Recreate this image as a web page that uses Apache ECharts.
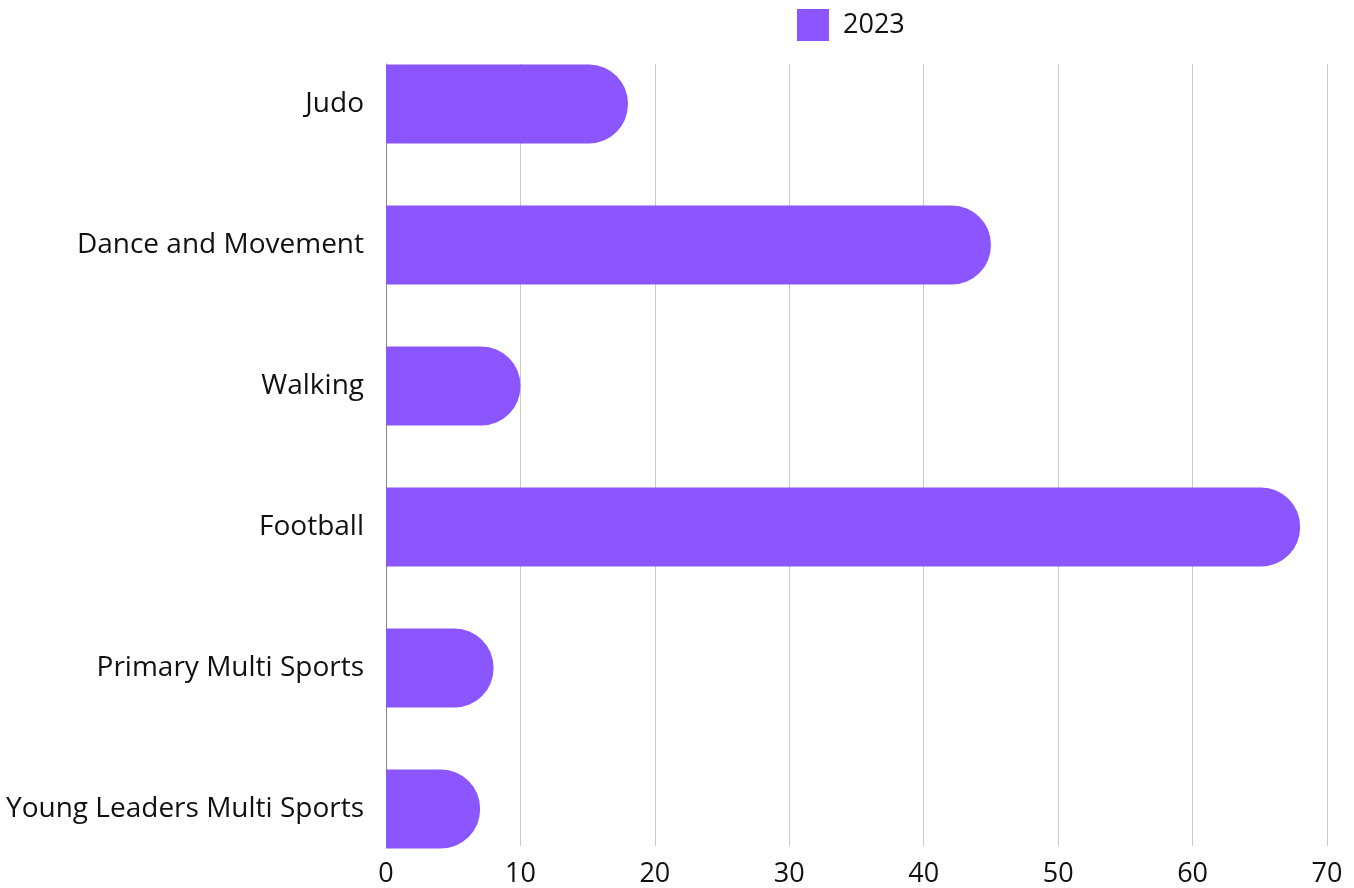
<!DOCTYPE html>
<html>
<head>
<meta charset="utf-8">
<script src="https://cdn.jsdelivr.net/npm/echarts@6/dist/echarts.min.js"></script>
<style>
    html, body { margin: 0; padding: 0; background: #fff; }
    #chart { width: 1354px; height: 888px; }
</style>
</head>
<body>
<div id="chart"></div>
<script>
const categories = [
    "Judo",
    "Dance and Movement",
    "Walking",
    "Football",
    "Primary Multi Sports",
    "Young Leaders Multi Sports",
];
const values2023 = [18, 45, 10, 68, 8, 7];
const xTicks = [0, 10, 20, 30, 40, 50, 60, 70];

setChart();

function setChart() {
    let chart = echarts.init(document.getElementById("chart"));
    const font = "Open Sans";
    chart.setOption({
        animation: false,
        legend: {
            data: ["2023"],
            left: 797,
            top: 9,
            padding: 0,
            itemWidth: 32,
            itemHeight: 32,
            itemGap: 20,
            textStyle: { fontSize: 27, color: "#111", fontFamily: font, padding: [3, 0, 0, 9] },
            icon: "rect",
        },
        grid: [
            // grid with axis and split lines
            { left: 386, right: 27, top: 64, bottom: 40 },
            // grid for the bars
            { left: 386, right: 27, top: 33.5, bottom: 8.5 },
        ],
        xAxis: [
            {
                gridIndex: 0,
                type: "value",
                min: xTicks[0],
                max: xTicks[xTicks.length - 1],
                interval: 10,
                axisLine: { show: false },
                axisTick: { show: false },
                splitLine: { lineStyle: { color: "#c8c8c8", width: 1 } },
                axisLabel: {
                    fontSize: 27,
                    color: "#111",
                    fontFamily: font,
                    margin: 15,
                },
            },
            {
                gridIndex: 1,
                type: "value",
                min: xTicks[0],
                max: xTicks[xTicks.length - 1],
                show: false,
            },
        ],
        yAxis: [
            {
                gridIndex: 0,
                type: "category",
                data: categories,
                inverse: true,
                axisLine: { show: true, lineStyle: { color: "#888", width: 1 } },
                axisTick: { show: false },
                axisLabel: { show: false },
            },
            {
                gridIndex: 1,
                type: "category",
                data: categories,
                inverse: true,
                axisLine: { show: false },
                axisTick: { show: false },
                axisLabel: {
                    fontSize: 28,
                    color: "#111",
                    fontFamily: font,
                    margin: 22,
                },
            },
        ],
        series: [
            {
                name: "2023",
                type: "bar",
                xAxisIndex: 1,
                yAxisIndex: 1,
                data: values2023,
                barWidth: 79,
                itemStyle: {
                    color: "#8b55ff",
                    borderRadius: [0, 39, 39, 0],
                },
                z: 10,
            },
        ],
    });
}
</script>
</body>
</html>
